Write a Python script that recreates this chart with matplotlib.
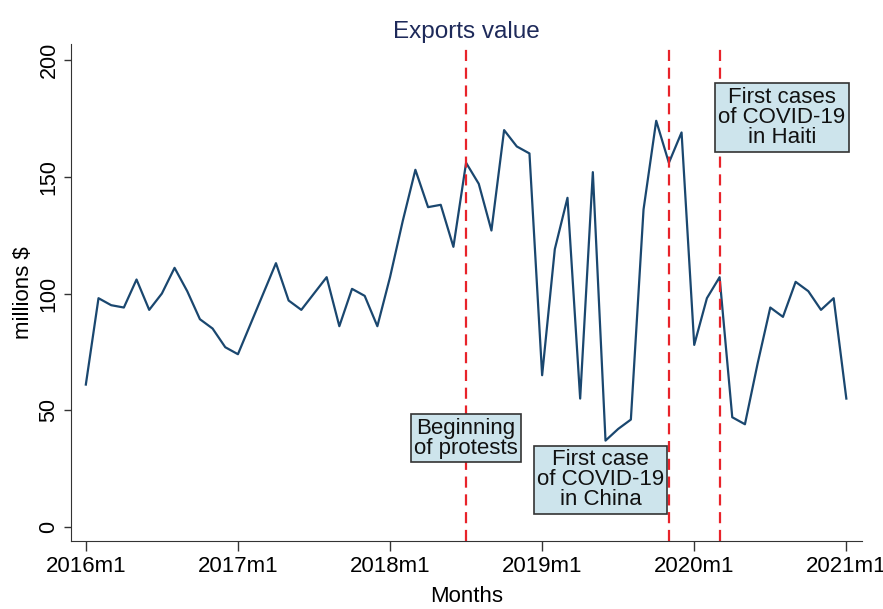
import matplotlib
matplotlib.use("Agg")
import matplotlib.pyplot as plt
import numpy as np

plt.rcParams['font.family'] = ['Liberation Sans', 'DejaVu Sans']

# monthly exports, 2016m1 .. 2021m1 (millions $)
exports = [61, 98, 95, 94, 106, 93, 100, 111, 101, 89, 85, 77,
           74, 87, 100, 113, 97, 93, 100, 107, 86, 102, 99, 86,
           107, 131, 153, 137, 138, 120, 156, 147, 127, 170, 163, 160,
           65, 119, 141, 55, 152, 37, 42, 46, 136, 174, 156, 169,
           78, 98, 107, 47, 44, 70, 94, 90, 105, 101, 93, 98,
           55]
months = np.arange(len(exports))

tick_pos = [0, 12, 24, 36, 48, 60]
tick_lab = ["2016m1", "2017m1", "2018m1", "2019m1", "2020m1", "2021m1"]
yticks = [0, 50, 100, 150, 200]

# events (month index) and their notes
event_x = [30, 46, 50]
notes = ["Beginning\nof protests", "First case\nof COVID-19\nin China",
         "First cases\nof COVID-19\nin Haiti"]
note_x = [30, 40.6, 54.9]
note_y = [38, 20.3, 175.4]

fig = plt.figure(figsize=(8.83, 6.09), dpi=100)
ax = fig.add_axes([0.0807, 0.1117, 0.8950, 0.8161])

ax.plot(months, exports, color='#1a476f', lw=1.6)
for ex in event_x:
    ax.axvline(ex, color='#e8232a', lw=1.6, ls=(0, (5, 3)))

for t, nx, ny in zip(notes, note_x, note_y):
    ax.text(nx, ny, t, ha='center', va='center', multialignment='center',
            fontsize=16, color='#111111', linespacing=0.95,
            bbox=dict(boxstyle='square,pad=0.15', fc='#cde4ec', ec='#333333', lw=1.2))

ax.set_xlim(-1.15, 61.2)
ax.set_ylim(-6.0, 206.9)
ax.set_xticks(tick_pos)
ax.set_xticklabels(tick_lab, fontsize=16)
ax.set_yticks(yticks)
ax.set_yticklabels([str(v) for v in yticks], fontsize=15.5, rotation=90, va='center')
ax.tick_params(direction='out', length=5, width=1, color='#333333')
ax.tick_params(axis='x', length=7)
ax.spines['top'].set_visible(False)
ax.spines['right'].set_visible(False)
ax.spines['left'].set_color('#333333')
ax.spines['bottom'].set_color('#333333')

ax.set_title("Exports value", fontsize=17.5, color='#1e2a5a', pad=4)
ax.set_xlabel("Months", fontsize=16, labelpad=7)
ax.set_ylabel("millions $", fontsize=16, labelpad=3)

fig.savefig("out.png", dpi=100)
